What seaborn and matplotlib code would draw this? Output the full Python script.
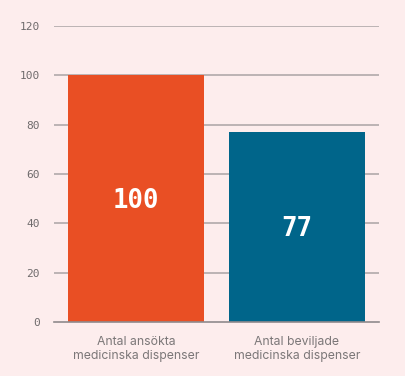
import pandas as pd
import seaborn as sns
import matplotlib.pyplot as plt

categories = ['Antal ansökta\nmedicinska dispenser', 'Antal beviljade\nmedicinska dispenser']
values = [100, 77]
colors = ['#e94f24', '#00658a']
yticks = [0, 20, 40, 60, 80, 100, 120]

BG = '#fdeded'


def plot_bars(out='out.png'):
    df = pd.DataFrame({'kategori': categories, 'antal': values})

    fig = plt.figure(figsize=(4.05, 3.76), dpi=100, facecolor=BG)
    ax = fig.add_axes([0.1333, 0.1436, 0.8025, 0.7873])
    ax.set_facecolor(BG)

    sns.barplot(data=df, x='kategori', y='antal', hue='kategori', palette=colors,
                legend=False, width=0.845, saturation=1, ax=ax)
    for p in ax.patches:
        p.set_zorder(3)

    ax.set_xlim(-0.51, 1.51)
    ax.set_ylim(0, 120)
    ax.set_yticks(yticks)
    ax.grid(False)
    # grid drawn by hand so it stays behind the bars
    for t in yticks[1:]:
        ax.axhline(t, color='#aaa3a4', linewidth=1.1, zorder=0.5)
    for s in ['top', 'right', 'left']:
        ax.spines[s].set_visible(False)
    ax.spines['bottom'].set_color('#8f8a8c')
    ax.spines['bottom'].set_linewidth(1.2)
    ax.spines['bottom'].set_zorder(4)
    ax.tick_params(axis='both', length=0)
    ax.tick_params(axis='y', pad=10, labelsize=8, labelcolor='#6f6b6c')
    ax.tick_params(axis='x', pad=10, labelsize=8.8, labelcolor='#7b7778')
    for lab in ax.get_yticklabels():
        lab.set_family('DejaVu Sans Mono')
    for lab in ax.get_xticklabels():
        lab.set_family('Inter')
        lab.set_linespacing(1.25)
    ax.set_xlabel('')
    ax.set_ylabel('')

    for i, v in enumerate(values):
        ax.text(i, v / 2 - 1, str(v), ha='center', va='center', color='white',
                fontsize=18.5, fontweight='bold', family='DejaVu Sans Mono', zorder=5)

    fig.savefig(out, dpi=100, facecolor=BG)
    plt.close(fig)


if __name__ == '__main__':
    plot_bars()
